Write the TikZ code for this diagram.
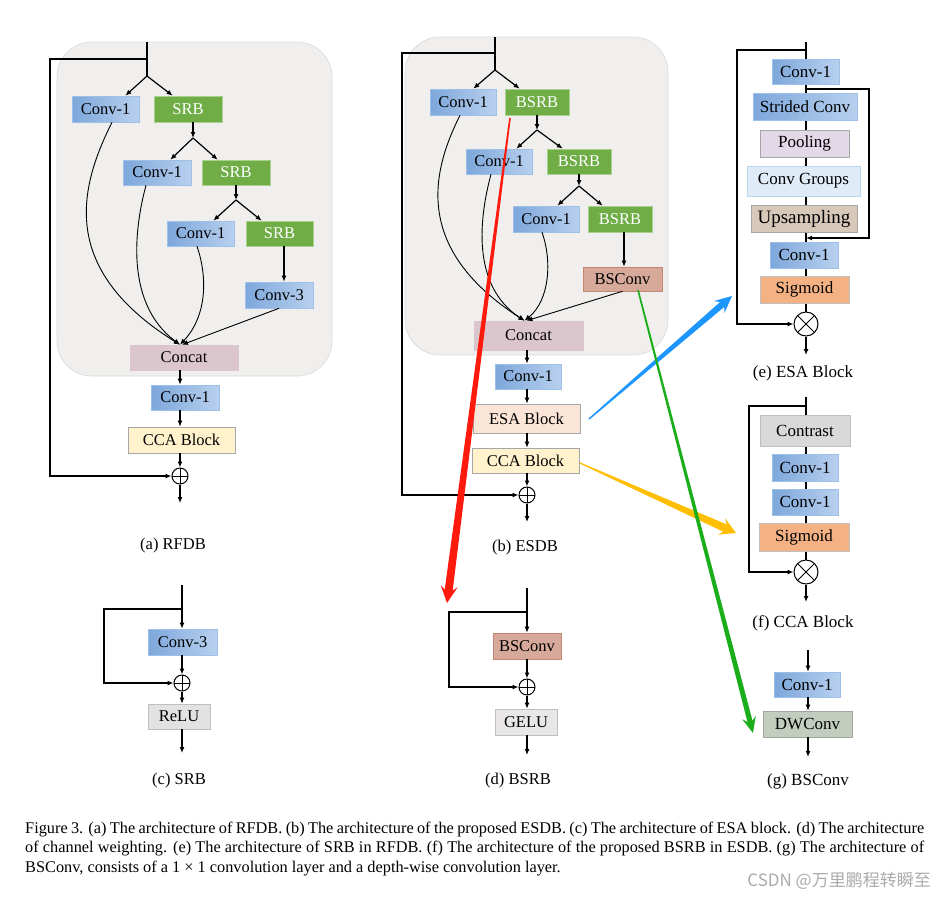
\documentclass[tikz,border=0pt]{standalone}
\usepackage{fontspec}
\setmainfont{Liberation Serif}
\newfontfamily\cjkfont{Noto Sans CJK SC}
\usetikzlibrary{arrows.meta,calc}
\definecolor{convL}{HTML}{7DA7DB}
\definecolor{convR}{HTML}{B8D0EE}
\definecolor{convB}{HTML}{9DC0E8}
\definecolor{srbF}{HTML}{70AD47}
\definecolor{srbB}{HTML}{A9D18E}
\definecolor{bgF}{HTML}{F0EFED}
\definecolor{bgB}{HTML}{D9D9D9}
\definecolor{concatF}{HTML}{DCC6CD}
\definecolor{ccaF}{HTML}{FFF2CC}
\definecolor{grayB}{HTML}{A6A6A6}
\definecolor{esaF}{HTML}{FBE5D6}
\definecolor{bscF}{HTML}{D6A99B}
\definecolor{bscB}{HTML}{C4876F}
\definecolor{reluF}{HTML}{E2E2E2}
\definecolor{reluB}{HTML}{BFBFBF}
\definecolor{geluF}{HTML}{E8E6E6}
\definecolor{contrF}{HTML}{D9D9D9}
\definecolor{poolF}{HTML}{E3D8E8}
\definecolor{cgF}{HTML}{DFEBF7}
\definecolor{cgB}{HTML}{BDD7EE}
\definecolor{upsF}{HTML}{D8C8BA}
\definecolor{sigF}{HTML}{F4B183}
\definecolor{dwF}{HTML}{C2CCBF}
\definecolor{dwB}{HTML}{9FA99B}
\definecolor{redA}{HTML}{FF1A0E}
\definecolor{blueA}{HTML}{1E96FF}
\definecolor{orA}{HTML}{FFBE00}
\definecolor{grA}{HTML}{1BAE1B}
\definecolor{wmark}{HTML}{ABABAB}
\newcommand\fA{\fontsize{16.5}{18}\selectfont}
\newcommand\fB{\fontsize{17}{19}\selectfont}
\newcommand\fatarrow[8]{%
  \coordinate (fS) at #2; \coordinate (fT) at #3;
  \coordinate (fB) at ($(fT)!#6!(fS)$);
  \coordinate (fN) at ($(fT)!#7!(fS)$);
  \fill[#1] ($(fS)!#4!90:(fT)$) -- ($(fN)!#5!-90:(fS)$) -- ($(fB)!#8!-90:(fS)$) -- (fT)
    -- ($(fB)!#8!90:(fS)$) -- ($(fN)!#5!90:(fS)$) -- ($(fS)!#4!-90:(fT)$) -- cycle;}
\tikzset{
  bx/.style={draw, line width=0.6pt, inner sep=0pt, font=\fA, text=black},
  conv/.style={bx, draw=convB, left color=convL, right color=convR},
  srb/.style={bx, draw=srbB, fill=srbF, text=white},
  concat/.style={bx, draw=concatF, fill=concatF},
  cca/.style={bx, draw=grayB, fill=ccaF},
  esa/.style={bx, draw=grayB, fill=esaF},
  bsc/.style={bx, draw=bscB, fill=bscF},
  relu/.style={bx, draw=reluB, fill=reluF},
  gelu/.style={bx, draw=reluB, fill=geluF},
  contr/.style={bx, draw=reluB, fill=contrF},
  pool/.style={bx, draw=grayB, fill=poolF},
  cgroup/.style={bx, draw=cgB, fill=cgF},
  ups/.style={bx, draw=grayB, fill=upsF},
  sig/.style={bx, draw=reluB, fill=sigF},
  dw/.style={bx, draw=dwB, fill=dwF},
  panel/.style={fill=bgF, draw=bgB, line width=0.6pt, rounded corners=35pt},
  ln/.style={line width=1.2pt},
  arr/.style={ln, -{Latex[length=6pt,width=5pt]}},
  crv/.style={line width=0.9pt, -{Latex[length=6pt,width=5pt]}},
  oplus/.style={circle, draw, line width=1pt, minimum size=16pt, inner sep=0pt, fill=white,
    path picture={\draw[line width=1pt] (path picture bounding box.north) -- (path picture bounding box.south)
      (path picture bounding box.west) -- (path picture bounding box.east);}},
  otimes/.style={circle, draw, line width=1pt, minimum size=24pt, inner sep=0pt, fill=white,
    path picture={\draw[line width=1pt] (path picture bounding box.north west) -- (path picture bounding box.south east)
      (path picture bounding box.north east) -- (path picture bounding box.south west);}},
  lbl/.style={font=\fA},
  captext/.style={font=\fontsize{16.3}{19}\selectfont, anchor=base west, inner sep=0pt}
}
\begin{document}
\begin{tikzpicture}[x=1pt,y=-1pt]
\useasboundingbox (0,0) rectangle (945,898);
\fill[white] (0,0) rectangle (945,898);

% ================= (a) RFDB =================
\draw[panel] (57,42) rectangle (332,376);
\coordinate (aTop) at (147,42);
\coordinate (aFb) at (147,59);
\coordinate (aB1) at (147,76);
\coordinate (aB2) at (193,138);
\coordinate (aB3) at (236,200);
\node[conv, minimum width=67pt, minimum height=26pt] (a1) at (105.5,109) {Conv-1};
\node[srb, minimum width=68pt, minimum height=26pt] (a2) at (188,109) {SRB};
\node[conv, minimum width=68pt, minimum height=25pt] (a3) at (157,172.5) {Conv-1};
\node[srb, minimum width=68pt, minimum height=25pt] (a4) at (236,172.5) {SRB};
\node[conv, minimum width=67pt, minimum height=25pt] (a5) at (200.5,233.5) {Conv-1};
\node[srb, minimum width=67pt, minimum height=25pt] (a6) at (279.5,233.5) {SRB};
\node[conv, minimum width=68pt, minimum height=26pt] (a7) at (279,295) {Conv-3};
\node[concat, minimum width=108pt, minimum height=25pt] (a8) at (184,357.5) {Concat};
\node[conv, minimum width=68pt, minimum height=25pt] (a9) at (185,397.5) {Conv-1};
\node[cca, minimum width=107pt, minimum height=26pt] (a10) at (181.5,440) {CCA Block};
\node[oplus] (aP) at (180,476) {};
\coordinate (aOut) at (180,503);
\coordinate (aT) at ([xshift=-4pt]a8.north);
\node[lbl] (aL) at (173,546) {(a) RFDB};

\draw[ln] (aTop) -- (aB1);
\draw[arr] (aFb) -- (50,59) |- (aP.west);
\draw[arr] (aB1) -- ([xshift=-14pt]a1.north east);
\draw[arr] (aB1) -- ([xshift=19pt]a2.north west);
\draw[arr] ([xshift=5pt]a2.south) -- (aB2);
\draw[arr] (aB2) -- ([xshift=-21pt]a3.north east);
\draw[arr] (aB2) -- ([xshift=16pt]a4.north west);
\draw[arr] (a4.south) -- (aB3);
\draw[arr] (aB3) -- ([xshift=-21pt]a5.north east);
\draw[arr] (aB3) -- ([xshift=16pt]a6.north west);
\draw[arr] ([xshift=4.5pt]a6.south) -- ([xshift=5pt]a7.north);
\draw[crv] ([xshift=6.5pt]a1.south) .. controls (78,190) and (60,270) .. (aT);
\draw[crv] ([xshift=-11pt]a3.south) .. controls (138,215) and (120,300) .. (aT);
\draw[crv] ([xshift=-3.5pt]a5.south) .. controls (207,275) and (208,315) .. (aT);
\draw[crv] (a7.south) -- ([xshift=-2pt]a8.north);
\draw[arr] (a8.south -| aP.center) -- (a9.north -| aP.center);
\draw[arr] (a9.south -| aP.center) -- (a10.north -| aP.center);
\draw[arr] (a10.south -| aP.center) -- (aP.north);
\draw[arr] (aP.south) -- (aOut);

% ================= (b) ESDB =================
\draw[panel] (405,37) rectangle (668,355);
\coordinate (bTop) at (495,37);
\coordinate (bFb) at (495,53);
\coordinate (bB1) at (495,70);
\coordinate (bB2) at (537,130);
\coordinate (bB3) at (579,186);
\node[conv, minimum width=66pt, minimum height=26pt] (b1) at (463,102) {Conv-1};
\node[srb, minimum width=64pt, minimum height=26pt] (b2) at (537,102) {BSRB};
\node[conv, minimum width=66pt, minimum height=25pt] (b3) at (499,161.5) {Conv-1};
\node[srb, minimum width=64pt, minimum height=25pt] (b4) at (579,161.5) {BSRB};
\node[conv, minimum width=66pt, minimum height=26pt] (b5) at (546,219) {Conv-1};
\node[srb, minimum width=64pt, minimum height=26pt] (b6) at (620,219) {BSRB};
\node[bsc, minimum width=79pt, minimum height=24pt] (b7) at (622.5,279) {BSConv};
\node[concat, minimum width=109pt, minimum height=29pt] (b8) at (528.5,335.5) {Concat};
\node[conv, minimum width=66pt, minimum height=25pt] (b9) at (528,376.5) {Conv-1};
\node[esa, minimum width=107pt, minimum height=29pt] (b10) at (526.5,418.5) {ESA Block};
\node[cca, minimum width=107pt, minimum height=25pt] (b11) at (525.5,460.5) {CCA Block};
\node[oplus] (bP) at (527,495) {};
\coordinate (bOut) at (527,522);
\coordinate (bT) at ([xshift=-4pt]b8.north);
\node[lbl] (bL) at (525,548) {(b) ESDB};

\draw[ln] (bTop) -- (bB1);
\draw[arr] (bFb) -- (402,53) |- (bP.west);
\draw[arr] (bB1) -- ([xshift=-23pt]b1.north east);
\draw[arr] (bB1) -- ([xshift=15pt]b2.north west);
\draw[arr] (b2.south) -- (bB2);
\draw[arr] (bB2) -- ([xshift=-16pt]b3.north east);
\draw[arr] (bB2) -- ([xshift=16pt]b4.north west);
\draw[arr] (b4.south) -- (bB3);
\draw[arr] (bB3) -- ([xshift=-22pt]b5.north east);
\draw[arr] (bB3) -- ([xshift=15pt]b6.north west);
\draw[arr] ([xshift=4pt]b6.south) -- ([xshift=1.5pt]b7.north);
\draw[crv] ([xshift=-3pt]b1.south) .. controls (430,175) and (415,250) .. (bT);
\draw[crv] ([xshift=-8pt]b3.south) .. controls (480,215) and (470,285) .. (bT);
\draw[crv] ([xshift=-4pt]b5.south) .. controls (552,260) and (550,300) .. (bT);
\draw[crv] (b7.south) -- ([xshift=-2pt]b8.north);
\draw[arr] (b8.south -| bP.center) -- (b9.north -| bP.center);
\draw[arr] (b9.south -| bP.center) -- (b10.north -| bP.center);
\draw[arr] (b10.south -| bP.center) -- (b11.north -| bP.center);
\draw[arr] (b11.south -| bP.center) -- (bP.north);
\draw[arr] (bP.south) -- (bOut);

% ================= (c) SRB =================
\coordinate (cTop) at (182,585);
\coordinate (cFb) at (182,609);
\node[conv, minimum width=69pt, minimum height=26pt] (c1) at (182.5,642) {Conv-3};
\node[oplus] (cP) at (182,683) {};
\node[relu, minimum width=62pt, minimum height=25pt] (c2) at (179,716.5) {ReLU};
\coordinate (cOut) at (182,753);
\node[lbl] (cL) at (179,781) {(c) SRB};
\draw[arr] (cTop) -- (c1.north -| cP.center);
\draw[arr] (cFb) -- (104,609) |- (cP.west);
\draw[arr] (c1.south -| cP.center) -- (cP.north);
\draw[arr] (cP.south) -- (c2.north -| cP.center);
\draw[arr] (c2.south -| cP.center) -- (cOut);

% ================= (d) BSRB =================
\coordinate (dTop) at (527,588);
\coordinate (dFb) at (527,612);
\node[bsc, minimum width=68pt, minimum height=26pt] (d1) at (527,646) {BSConv};
\node[oplus] (dP) at (527,687) {};
\node[gelu, minimum width=62pt, minimum height=26pt] (d2) at (526,722) {GELU};
\coordinate (dOut) at (527,755);
\node[lbl] (dL) at (518,781) {(d) BSRB};
\draw[arr] (dTop) -- (d1.north -| dP.center);
\draw[arr] (dFb) -- (449,612) |- (dP.west);
\draw[arr] (d1.south -| dP.center) -- (dP.north);
\draw[arr] (dP.south) -- (d2.north -| dP.center);
\draw[arr] (d2.south -| dP.center) -- (dOut);

% ================= (e) ESA Block =================
\coordinate (eTop) at (806,42);
\coordinate (eFb) at (806,50);
\coordinate (eSk) at (806,89);
\coordinate (eSkE) at (806,238);
\node[otimes] (eX) at (806,324) {};
\draw[ln] (eTop) -- (eX.north);
\node[conv, font=\fB, minimum width=67pt, minimum height=25pt] (e1) at (805.5,71.5) {Conv-1};
\node[conv, font=\fB, minimum width=104pt, minimum height=27pt] (e2) at (805,106.5) {Strided Conv};
\node[pool, font=\fB, minimum width=89pt, minimum height=27pt] (e3) at (804.5,143.5) {Pooling};
\node[cgroup, font=\fB, minimum width=113pt, minimum height=30pt] (e4) at (803.5,181) {Conv Groups};
\node[ups, font=\fontsize{19}{21}\selectfont, minimum width=106pt, minimum height=27pt] (e5) at (804,218.5) {Upsampling};
\node[conv, font=\fB, minimum width=68pt, minimum height=26pt] (e6) at (804,255) {Conv-1};
\node[sig, font=\fB, minimum width=89pt, minimum height=27pt] (e7) at (804.5,289.5) {Sigmoid};
\coordinate (eOut) at (806,355);
\node[font=\fB] (eL) at (803,373) {(e) ESA Block};
\draw[arr] (eFb) -- (737,50) |- (eX.west);
\draw[arr] (eSk) -- (869,89) |- (eSkE);
\draw[arr] (eX.south) -- (eOut);

% ================= (f) CCA Block =================
\coordinate (fTop) at (806,397);
\coordinate (fFb) at (806,406);
\node[otimes] (fX) at (806,572) {};
\draw[ln] (fTop) -- (fX.north);
\node[contr, font=\fB, minimum width=90pt, minimum height=31pt] (f1) at (805,430.5) {Contrast};
\node[conv, font=\fB, minimum width=66pt, minimum height=27pt] (f2) at (805,467.5) {Conv-1};
\node[conv, font=\fB, minimum width=66pt, minimum height=26pt] (f3) at (805,502) {Conv-1};
\node[sig, font=\fB, minimum width=90pt, minimum height=28pt] (f4) at (804,537) {Sigmoid};
\coordinate (fOut) at (806,602);
\node[font=\fB] (fL) at (803,623) {(f) CCA Block};
\draw[arr] (fFb) -- (749,406) |- (fX.west);
\draw[arr] (fX.south) -- (fOut);

% ================= (g) BSConv =================
\coordinate (gTop) at (808,650);
\node[conv, font=\fB, minimum width=66pt, minimum height=25pt] (g1) at (807,684.5) {Conv-1};
\node[dw, font=\fB, minimum width=89pt, minimum height=26pt] (g2) at (807.5,724) {DWConv};
\coordinate (gOut) at (808,757);
\node[font=\fB] (gL) at (808,781) {(g) BSConv};
\draw[arr] (gTop) -- (g1.north -| gTop);
\draw[arr] (g1.south -| gTop) -- (g2.north -| gTop);
\draw[arr] (g2.south -| gTop) -- (gOut);

% ================= highlight arrows =================
\fatarrow{redA}{(510,118)}{(447,603)}{0.8pt}{4pt}{17pt}{13pt}{8.5pt}
\fatarrow{blueA}{(589,419)}{(732,296)}{0.7pt}{3.2pt}{17pt}{13pt}{8pt}
\fatarrow{orA}{(580,463)}{(736,533)}{0.6pt}{4pt}{16pt}{12pt}{9pt}
\fatarrow{grA}{(638,290)}{(753,733)}{0.8pt}{2.6pt}{16pt}{12pt}{7pt}

% ================= caption =================
\node[captext] (cap1) at (25,833) {\makebox[899pt][s]{Figure 3. (a) The architecture of RFDB. (b) The architecture of the proposed ESDB. (c) The architecture of ESA block. (d) The architecture}};
\node[captext] (cap2) at (25,852.5) {\makebox[899pt][s]{of channel weighting. (e) The architecture of SRB in RFDB. (f) The architecture of the proposed BSRB in ESDB. (g) The architecture of}};
\node[captext] (cap3) at (25,872) {BSConv, consists of a 1 × 1 convolution layer and a depth-wise convolution layer.};
\node[font=\cjkfont\fontsize{17}{19}\selectfont, text=wmark, anchor=east, inner sep=0pt] (wm) at (931,881) {CSDN @万里鹏程转瞬至};
\end{tikzpicture}
\end{document}
